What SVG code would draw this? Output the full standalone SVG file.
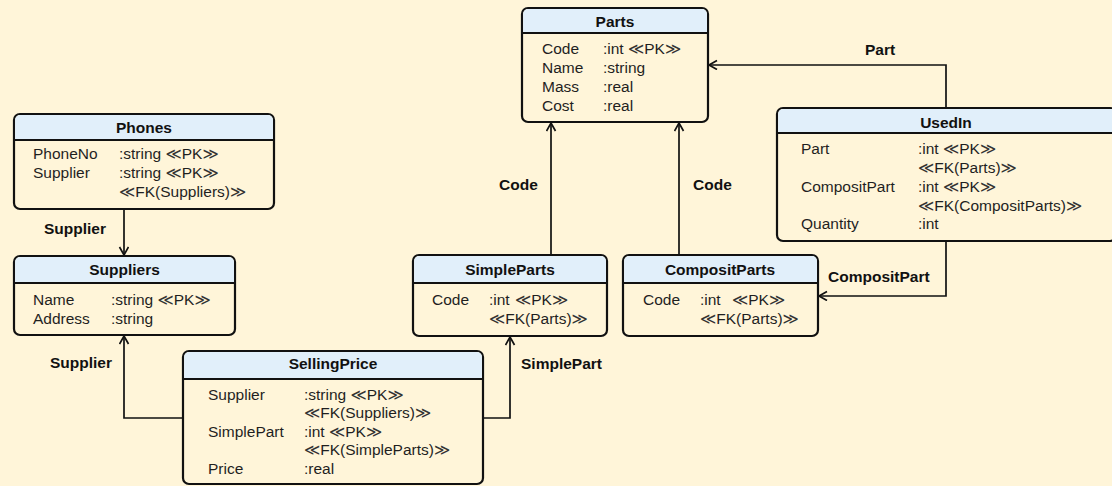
<svg xmlns="http://www.w3.org/2000/svg" width="1112" height="486" viewBox="0 0 1112 486">
<defs>
<style>
.box{fill:#fff5d9;stroke:#111;stroke-width:2.2}
.hdr{fill:#e1effa}
.sep{stroke:#111;stroke-width:2.2}
.t{font-family:"Liberation Sans",Arial,sans-serif;font-size:15.5px;fill:#1f1f1f}
.g{font-family:"DejaVu Sans",sans-serif;fill:#333}
.b{font-family:"Liberation Sans",Arial,sans-serif;font-size:15.5px;font-weight:bold;fill:#111}
.c{text-anchor:middle}
.ln{fill:none;stroke:#111;stroke-width:1.7}
</style>
<marker id="ah" markerWidth="12" markerHeight="12" refX="9" refY="5" orient="auto" markerUnits="userSpaceOnUse">
<path d="M1,0.5 L9,5 L1,9.5" fill="none" stroke="#111" stroke-width="1.7"/>
</marker>
</defs>
<rect width="1112" height="486" fill="#fff5d9"/>

<g id="connectors">
<line class="ln" x1="124" y1="209" x2="124" y2="255" marker-end="url(#ah)"/>
<line class="ln" x1="551" y1="255" x2="551" y2="123" marker-end="url(#ah)"/>
<line class="ln" x1="679" y1="255" x2="679" y2="123" marker-end="url(#ah)"/>
<path class="ln" d="M946,108 V65 H709" marker-end="url(#ah)"/>
<path class="ln" d="M946,241 V296 H819" marker-end="url(#ah)"/>
<path class="ln" d="M183,418 H124 V336" marker-end="url(#ah)"/>
<path class="ln" d="M483,418 H510 V337" marker-end="url(#ah)"/>
<text class="b" x="44" y="233.5">Supplier</text>
<text class="b" x="499" y="189.5">Code</text>
<text class="b" x="693" y="189.5">Code</text>
<text class="b" x="865" y="54.5">Part</text>
<text class="b" x="828" y="281.5">CompositPart</text>
<text class="b" x="50" y="368">Supplier</text>
<text class="b" x="521" y="368.5">SimplePart</text>
</g>

<g id="Phones">
<rect class="box" x="14" y="114" width="260" height="95" rx="6"/>
<path class="hdr" d="M15.1,140 V120 a5,5 0 0 1 5,-5 H268 a5,5 0 0 1 5,5 V140 Z"/>
<line class="sep" x1="14" y1="140" x2="274" y2="140"/>
<text class="b c" x="144" y="132.5">Phones</text>
<text class="t" x="33" y="159">PhoneNo</text><text class="t" x="119" y="159">:string <tspan class="g">≪</tspan>PK<tspan class="g">≫</tspan></text>
<text class="t" x="33" y="178">Supplier</text><text class="t" x="119" y="178">:string <tspan class="g">≪</tspan>PK<tspan class="g">≫</tspan></text>
<text class="t" x="119" y="197"><tspan class="g">≪</tspan>FK(Suppliers)<tspan class="g">≫</tspan></text>
</g>

<g id="Suppliers">
<rect class="box" x="14" y="256" width="221" height="79" rx="6"/>
<path class="hdr" d="M15.1,283 V262 a5,5 0 0 1 5,-5 H229 a5,5 0 0 1 5,5 V283 Z"/>
<line class="sep" x1="14" y1="283" x2="235" y2="283"/>
<text class="b c" x="124.5" y="274.5">Suppliers</text>
<text class="t" x="33" y="304.5">Name</text><text class="t" x="111" y="304.5">:string <tspan class="g">≪</tspan>PK<tspan class="g">≫</tspan></text>
<text class="t" x="33" y="323.5">Address</text><text class="t" x="111" y="323.5">:string</text>
</g>

<g id="Parts">
<rect class="box" x="522" y="8" width="186" height="114" rx="6"/>
<path class="hdr" d="M523.1,33 V14 a5,5 0 0 1 5,-5 H702 a5,5 0 0 1 5,5 V33 Z"/>
<line class="sep" x1="522" y1="33" x2="708" y2="33"/>
<text class="b c" x="615" y="26.5">Parts</text>
<text class="t" x="542" y="53.5">Code</text><text class="t" x="603" y="53.5">:int <tspan class="g">≪</tspan>PK<tspan class="g">≫</tspan></text>
<text class="t" x="542" y="72.5">Name</text><text class="t" x="603" y="72.5">:string</text>
<text class="t" x="542" y="91.5">Mass</text><text class="t" x="603" y="91.5">:real</text>
<text class="t" x="542" y="110.5">Cost</text><text class="t" x="603" y="110.5">:real</text>
</g>

<g id="UsedIn">
<rect class="box" x="777" y="108" width="339" height="133" rx="6"/>
<path class="hdr" d="M778.1,133 V114 a5,5 0 0 1 5,-5 H1114 V133 Z"/>
<line class="sep" x1="777" y1="133" x2="1116" y2="133"/>
<text class="b c" x="946" y="127.5">UsedIn</text>
<text class="t" x="801" y="153.5">Part</text><text class="t" x="918" y="153.5">:int <tspan class="g">≪</tspan>PK<tspan class="g">≫</tspan></text>
<text class="t" x="918" y="172.5"><tspan class="g">≪</tspan>FK(Parts)<tspan class="g">≫</tspan></text>
<text class="t" x="801" y="191.5">CompositPart</text><text class="t" x="918" y="191.5">:int <tspan class="g">≪</tspan>PK<tspan class="g">≫</tspan></text>
<text class="t" x="918" y="210.5"><tspan class="g">≪</tspan>FK(CompositParts)<tspan class="g">≫</tspan></text>
<text class="t" x="801" y="229">Quantity</text><text class="t" x="918" y="229">:int</text>
</g>

<g id="SimpleParts">
<rect class="box" x="413" y="255" width="194" height="81" rx="6"/>
<path class="hdr" d="M414.1,283 V261 a5,5 0 0 1 5,-5 H601 a5,5 0 0 1 5,5 V283 Z"/>
<line class="sep" x1="413" y1="283" x2="607" y2="283"/>
<text class="b c" x="510" y="274.5">SimpleParts</text>
<text class="t" x="432" y="304.5">Code</text><text class="t" x="489" y="304.5">:int</text><text class="t" x="515" y="304.5"><tspan class="g">≪</tspan>PK<tspan class="g">≫</tspan></text>
<text class="t" x="489" y="323.5"><tspan class="g">≪</tspan>FK(Parts)<tspan class="g">≫</tspan></text>
</g>

<g id="CompositParts">
<rect class="box" x="623" y="255" width="195" height="81" rx="6"/>
<path class="hdr" d="M624.1,283 V261 a5,5 0 0 1 5,-5 H812 a5,5 0 0 1 5,5 V283 Z"/>
<line class="sep" x1="623" y1="283" x2="818" y2="283"/>
<text class="b c" x="720" y="274.5">CompositParts</text>
<text class="t" x="643" y="304.5">Code</text><text class="t" x="700" y="304.5">:int</text><text class="t" x="732" y="304.5"><tspan class="g">≪</tspan>PK<tspan class="g">≫</tspan></text>
<text class="t" x="700" y="323.5"><tspan class="g">≪</tspan>FK(Parts)<tspan class="g">≫</tspan></text>
</g>

<g id="SellingPrice">
<rect class="box" x="183" y="351" width="300" height="133" rx="6"/>
<path class="hdr" d="M184.1,379 V357 a5,5 0 0 1 5,-5 H477 a5,5 0 0 1 5,5 V379 Z"/>
<line class="sep" x1="183" y1="379" x2="483" y2="379"/>
<text class="b c" x="333" y="368.5">SellingPrice</text>
<text class="t" x="208" y="399.5">Supplier</text><text class="t" x="304" y="399.5">:string <tspan class="g">≪</tspan>PK<tspan class="g">≫</tspan></text>
<text class="t" x="304" y="418"><tspan class="g">≪</tspan>FK(Suppliers)<tspan class="g">≫</tspan></text>
<text class="t" x="208" y="436.5">SimplePart</text><text class="t" x="304" y="436.5">:int <tspan class="g">≪</tspan>PK<tspan class="g">≫</tspan></text>
<text class="t" x="304" y="455"><tspan class="g">≪</tspan>FK(SimpleParts)<tspan class="g">≫</tspan></text>
<text class="t" x="208" y="473.5">Price</text><text class="t" x="304" y="473.5">:real</text>
</g>
</svg>
